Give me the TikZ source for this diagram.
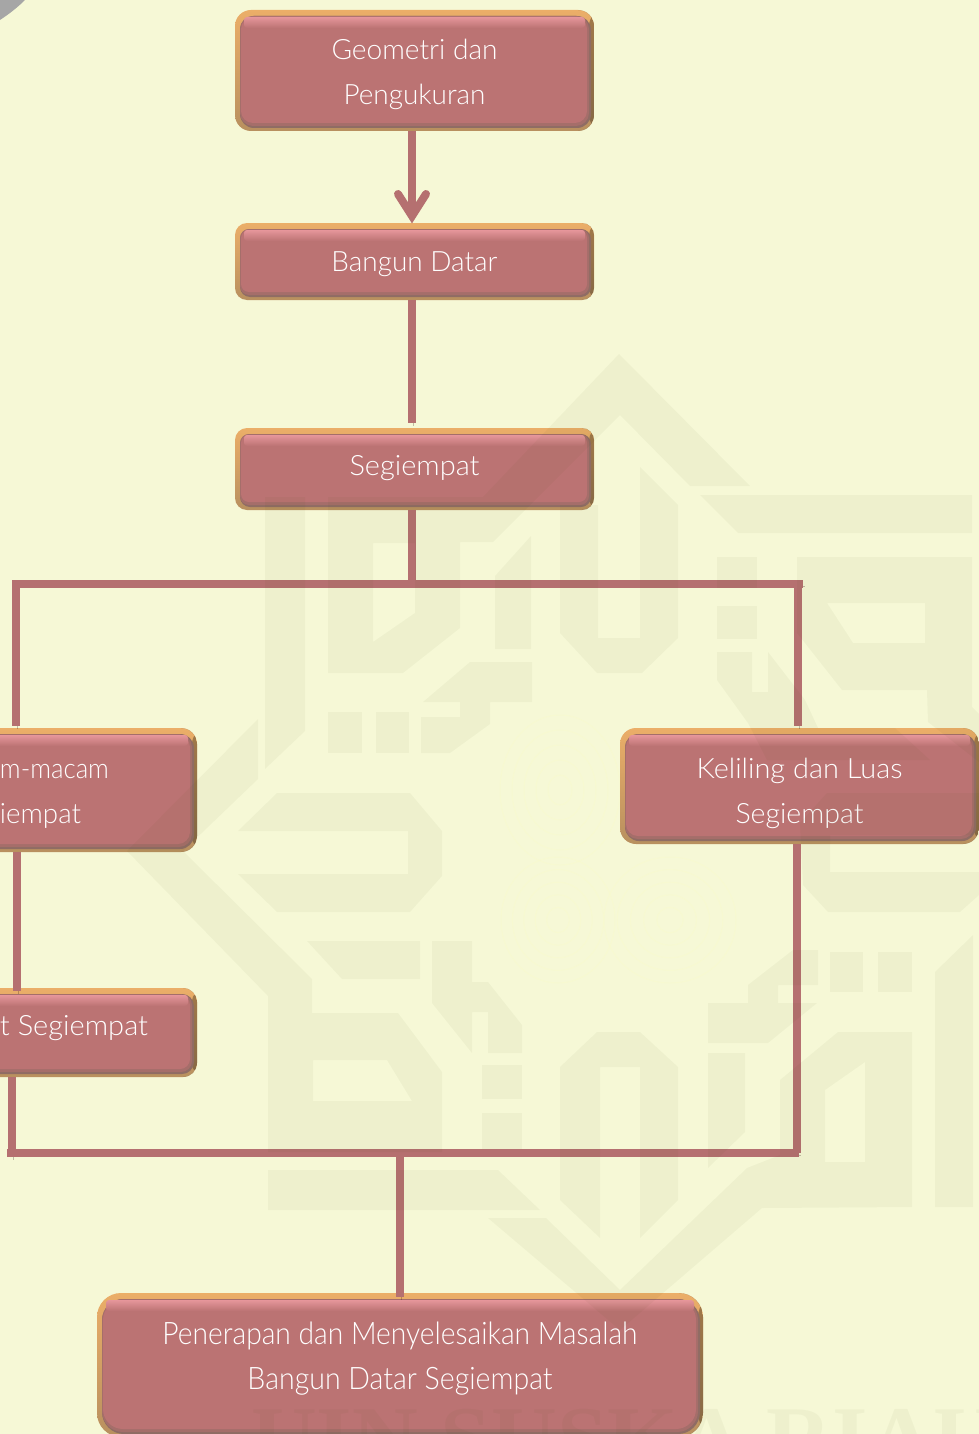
\documentclass[tikz,border=0pt]{standalone}
\usepackage{fontspec}
\usepackage{graphicx}
\usetikzlibrary{arrows.meta}
\setmainfont{Lato Light}
\newfontfamily\wmfont{Liberation Serif}
\definecolor{paper}{HTML}{F6F8D6}
\definecolor{wm}{RGB}{46,68,0}
\definecolor{face}{HTML}{BB7373}
\definecolor{hilite}{HTML}{E6969B}
\definecolor{edge}{HTML}{8F6C64}
\definecolor{edgemid}{HTML}{A56E6A}
\definecolor{rimtop}{HTML}{EBAE68}
\definecolor{rimbot}{HTML}{B8905F}
\definecolor{wire}{HTML}{B57070}
\definecolor{ghostline}{HTML}{F9FBCB}
\newcommand{\fw}[2]{\resizebox{#1pt}{\height}{#2}}
\newcommand{\lab}[2]{\raisebox{#1pt}[0pt][0pt]{\begin{tabular}[t]{@{}c@{}}#2\end{tabular}}}
\tikzset{
  pbox/.style={shape=rectangle, rounded corners=#1, inner sep=0pt, outer sep=0pt,
    top color=rimtop, bottom color=rimbot, text=white,
    font=\fontsize{28}{45}\selectfont,
    path picture={
      \fill[black!60!rimbot, opacity=.45]
        ([shift={(-5pt,0pt)}]path picture bounding box.north east) rectangle
        (path picture bounding box.south east);
      \fill[edge, rounded corners=#1-2pt]
        ([shift={(5pt,-6pt)}]path picture bounding box.north west) rectangle
        ([shift={(-3pt,3pt)}]path picture bounding box.south east);
      \fill[edgemid, rounded corners=#1-3pt]
        ([shift={(5pt,-6pt)}]path picture bounding box.north west) rectangle
        ([shift={(-5pt,5pt)}]path picture bounding box.south east);
      \fill[face, rounded corners=#1-4pt]
        ([shift={(6pt,-7pt)}]path picture bounding box.north west) rectangle
        ([shift={(-7pt,8pt)}]path picture bounding box.south east);
      \shade[top color=hilite, bottom color=face, rounded corners=3pt]
        ([shift={(9pt,-7pt)}]path picture bounding box.north west) rectangle
        ([shift={(-9pt,-18pt)}]path picture bounding box.north east);
    }},
  lbl/.style={text=white, inner sep=0pt, outer sep=0pt, font=\fontsize{28}{45}\selectfont},
  conn/.style={draw=wire, line width=8pt,
    preaction={draw=black!70!wire, opacity=.28, transform canvas={xshift=1.5pt,yshift=-2.5pt}}},
  wmark/.style={fill=wm, fill opacity=.04, even odd rule},
  ghost/.style={draw=ghostline, draw opacity=.45, line width=1pt}
}
\begin{document}
\begin{tikzpicture}[x=1pt,y=-1pt]
\useasboundingbox (0,0) rectangle (979,1434);
\clip (0,0) rectangle (979,1434);
\fill[paper] (0,0) rectangle (979,1434);
\fill[black!35] (0,0) -- (25,0) .. controls (17,8) and (9,14) .. (0,20) -- cycle;

% faint fingerprint
\foreach \r in {12,24,...,60} {
  \draw[ghost] (560,790) ellipse ({\r*1.0} and {\r*1.25});
  \draw[ghost] (558,920) ellipse ({\r*0.95} and {\r*1.05});
  \draw[ghost] (670,920) ellipse ({\r*1.1} and {\r*1.05});
}

% boxes
\node[pbox=16pt, minimum width=359pt, minimum height=121pt] (geo) at (414.5,70.5)
  {\lab{10.5}{\fw{166}{Geometri dan}\\\fw{142}{Pengukuran}}};
\node[pbox=12pt, minimum width=359pt, minimum height=77pt] (bangun) at (414.5,261.5)
  {\lab{-9.5}{\fw{166}{Bangun Datar}}};
\node[pbox=12pt, minimum width=359pt, minimum height=82pt] (segi) at (414.5,469)
  {\lab{-6}{\fw{130}{Segiempat}}};
\node[pbox=16pt, minimum width=357pt, minimum height=124pt] (macam) at (18.5,790) {};
\node[pbox=14pt, minimum width=357pt, minimum height=89pt] (sifat) at (18.5,1032.5) {};
\node[pbox=16pt, minimum width=359pt, minimum height=116pt] (kel) at (799.5,786)
  {\lab{8}{\fw{206}{Keliling dan Luas}\\\fw{128}{Segiempat}}};
\node[pbox=24pt, minimum width=606pt, minimum height=144pt] (hasil) at (400,1365)
  {\raisebox{21pt}[0pt][0pt]{\begin{tabular}[t]{@{}c@{}}\fontsize{31}{45}\selectfont\fw{475}{Penerapan dan Menyelesaikan Masalah}\\\fontsize{31}{45}\selectfont\fw{305}{Bangun Datar Segiempat}\end{tabular}}};
\node[lbl, anchor=base east] (macamA) at (109,778) {\fw{109}{m-macam}};
\node[lbl, anchor=base east] (macamB) at (81,823) {\fw{81}{iempat}};
\node[lbl, anchor=base east] (sifatA) at (148,1035) {\fw{148}{t Segiempat}};

% junctions
\coordinate (v) at (412,584);
\coordinate (hl) at (12,584);
\coordinate (hr) at (803,584);
\coordinate (vl) at (16,584);
\coordinate (vr) at (798,584);
\coordinate (vm) at (17,850);
\coordinate (bv) at (12,1157);
\coordinate (bl) at (7,1153);
\coordinate (br) at (799,1153);
\coordinate (rv) at (797,1153);
\coordinate (bc) at (400,1153);

% connectors
\draw[conn, shorten >=8pt] (geo.south -| v) -- (bangun.north -| v);
\draw[wire, line width=8pt, line cap=round, line join=miter, miter limit=4]
  (398,194) -- (412,216) -- (426,194);
\draw[conn, shorten >=5pt] (bangun.south -| v) -- (segi.north -| v);
\draw[conn] (segi.south -| v) -- (v);
\draw[conn] (hl) -- (hr);
\draw[conn, shorten <=4pt, shorten >=2pt] (vl) -- (macam.north -| vl);
\draw[conn, shorten <=4pt, shorten >=2pt] (vr) -- (kel.north -| vr);
\draw[conn, shorten >=-3pt] (macam.south -| vm) -- (sifat.north -| vm);
\draw[conn] (sifat.south -| bv) -- (bv);
\draw[conn] (kel.south -| rv) -- (rv);
\draw[conn] (bl) -- (br);
\draw[conn, shorten >=-4pt] (bc) -- (hasil.north -| bc);

% watermark
\fill[wmark] (328,497) -- (483,497) -- (619,354) -- (750,486) -- (690,486) -- (620,415) -- (493,542) -- (460,542) -- (460,628) -- (403,673) -- (328,673) -- cycle
  (373,543) -- (415,543) -- (415,613) -- (373,642) -- cycle;
\fill[wmark] (265,497) -- (305,497) -- (305,731) -- (265,769) -- cycle;
\fill[wmark] (495,576) -- (531,536) -- (531,649) -- (495,649) -- cycle;
\fill[wmark] (423,702) -- (470,662) -- (532,662) -- (532,702) -- (490,702) -- (490,724) -- (450,753) -- (421,753) -- (421,717) -- (460,717) -- (460,702) -- cycle;
\fill[wmark] (328,712) rectangle (362,753);
\fill[wmark] (376,712) rectangle (409,753);
\fill[wmark] (258,719) -- (258,779) -- (183,851) -- (312,979) -- (312,1013) -- (398,1013) -- (442,1072) -- (442,1152) -- (268,1152) -- (268,996) -- (127,851) -- cycle
  (313,1060) -- (387,1060) -- (412,1101) -- (313,1101) -- cycle;
\fill[wmark] (238,831) -- (277,793) -- (410,793) -- (442,831) -- (442,876) -- (410,912) -- (277,912) -- (238,874) -- (408,874) -- (408,831) -- cycle;
\fill[wmark] (307,941) -- (420,941) -- (420,979) -- (342,979) -- cycle;
\fill[wmark] (432,941) -- (472,941) -- (472,982) -- (488,982) -- (522,1025) -- (522,1053) -- (488,1053) -- (488,1012) -- (472,1012) -- (472,1053) -- (432,1003) -- cycle;
\fill[wmark] (482,1065) rectangle (522,1099);
\fill[wmark] (482,1113) rectangle (522,1149);
\fill[wmark] (268,1170) -- (498,1170) -- (540,1210) -- (268,1210) -- cycle;
\fill[wmark] (560,505) -- (598,505) -- (598,638) -- (640,638) -- (640,467) -- (678,505) -- (678,638) -- (642,673) -- (597,673) -- (560,633) -- cycle;
\fill[wmark] (700,495) -- (972,495) -- (972,533) -- (738,533) -- cycle;
\fill[wmark] (717,557) rectangle (757,588);
\fill[wmark] (717,606) rectangle (757,639);
\fill[wmark] (797,557) -- (972,557) -- (972,707) -- (979,714) -- (979,762) -- (928,722) -- (927,690) -- (842,690) -- (805,643) -- (797,633) -- cycle
  (827,603) -- (925,603) -- (925,643) -- (853,643) -- cycle;
\fill[wmark] (717,652) -- (752,652) -- (752,692) -- (768,692) -- (768,652) -- (805,700) -- (818,728) -- (895,728) -- (930,760) -- (767,760) -- (748,723) -- (717,680) -- cycle;
\fill[wmark] (827,793) -- (979,793) -- (979,835) -- (830,835) -- (830,872) -- (979,872) -- (979,895) -- (960,912) -- (828,912) -- (803,885) -- (800,823) -- cycle;
\fill[wmark] (560,1067) -- (597,1032) -- (640,1032) -- (678,1067) -- (678,1200) -- (640,1238) -- (640,1067) -- (600,1067) -- (600,1238) -- (560,1200) -- cycle;
\fill[wmark] (708,1053) -- (745,1053) -- (745,1132) -- (708,1168) -- cycle;
\fill[wmark] (708,1003) -- (748,1003) -- (748,985) -- (793,950) -- (818,950) -- (818,985) -- (778,985) -- (778,1003) -- (817,1003) -- (768,1043) -- (708,1043) -- cycle;
\fill[wmark] (830,952) rectangle (863,992);
\fill[wmark] (878,952) rectangle (912,992);
\fill[wmark] (780,1080) -- (838,1032) -- (912,1032) -- (912,1207) -- (762,1208) -- (620,1330) -- (488,1218) -- (546,1218) -- (620,1290) -- (747,1168) -- (780,1155) -- cycle
  (825,1090) -- (865,1062) -- (865,1162) -- (825,1162) -- cycle;
\fill[wmark] (935,972) -- (973,935) -- (973,1207) -- (935,1207) -- cycle;
\node[anchor=base west, inner sep=0pt, text=wm, text opacity=.04, font={\wmfont\bfseries\fontsize{91}{91}\selectfont}] (uin) at (251,1469) {UIN SUSKA RIAU};
\end{tikzpicture}
\end{document}
